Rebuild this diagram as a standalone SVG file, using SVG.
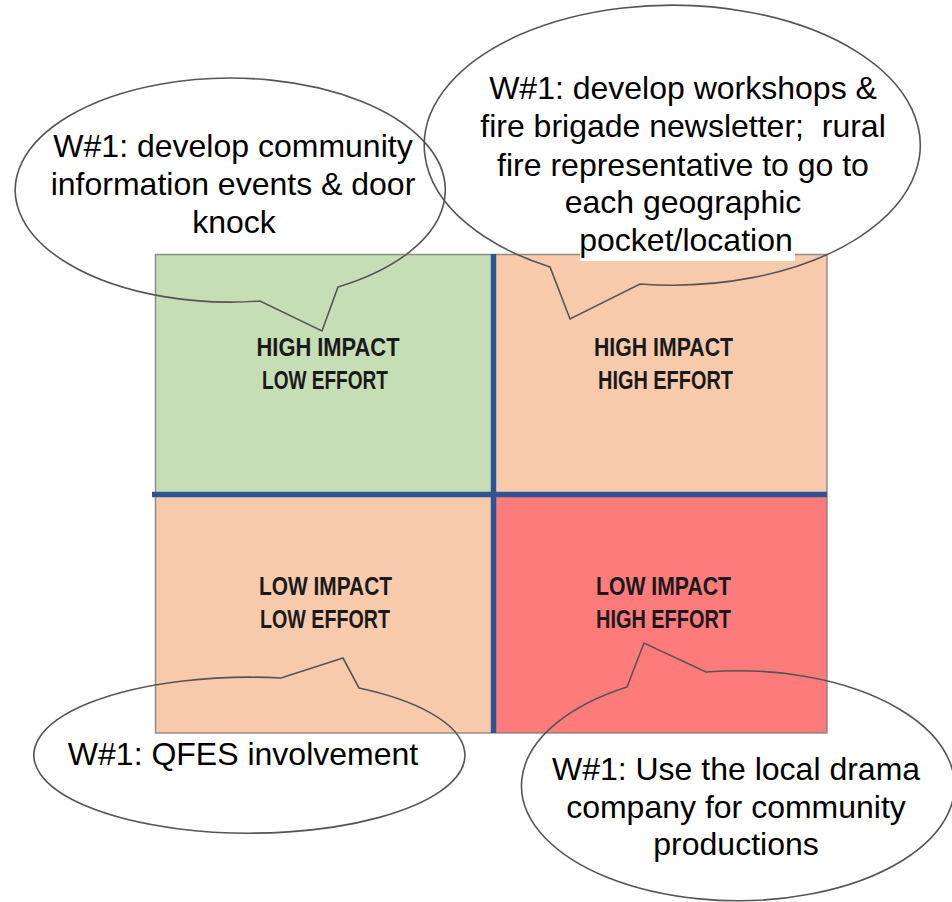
<svg xmlns="http://www.w3.org/2000/svg" width="952" height="902" viewBox="0 0 952 902">
  <style>
    .quad-label { font-family: "Liberation Sans Narrow", "Liberation Sans", Arial, sans-serif; font-weight: bold; font-size: 25px; fill: #1a1a1a; text-anchor: middle; }
    .callout { fill: none; stroke: #555555; stroke-width: 1.6; stroke-linejoin: miter; }
    .callout-text { font-family: "Liberation Sans", Arial, sans-serif; font-size: 32px; fill: #000000; text-anchor: middle; }
    .axis { stroke: #2F5496; stroke-width: 5.5; }
  </style>

  <rect x="0" y="0" width="952" height="902" fill="#ffffff"/>

  <!-- Impact / effort matrix -->
  <g id="matrix">
    <rect id="q-high-impact-low-effort" x="155" y="254" width="338" height="240" fill="#C6DEB6"/>
    <rect id="q-high-impact-high-effort" x="493" y="254" width="334" height="240" fill="#F7CAAC"/>
    <rect id="q-low-impact-low-effort" x="155" y="494" width="338" height="239" fill="#F7CAAC"/>
    <rect id="q-low-impact-high-effort" x="493" y="494" width="334" height="239" fill="#FE7B7C"/>
    <rect x="155.5" y="254.5" width="671.5" height="478.5" fill="none" stroke="#7a7a7a" stroke-width="1.5" stroke-opacity="0.8"/>
    <line class="axis" x1="493.5" y1="254" x2="493.5" y2="733"/>
    <line class="axis" x1="152" y1="494.5" x2="827" y2="494.5"/>

    <g id="label-tl">
      <text class="quad-label" x="328" y="356" textLength="143" lengthAdjust="spacingAndGlyphs">HIGH IMPACT</text>
      <text class="quad-label" x="325" y="389" textLength="126" lengthAdjust="spacingAndGlyphs">LOW EFFORT</text>
    </g>
    <g id="label-tr">
      <text class="quad-label" x="663.5" y="356" textLength="139" lengthAdjust="spacingAndGlyphs">HIGH IMPACT</text>
      <text class="quad-label" x="665.5" y="389" textLength="135" lengthAdjust="spacingAndGlyphs">HIGH EFFORT</text>
    </g>
    <g id="label-bl">
      <text class="quad-label" x="325.5" y="595" textLength="133" lengthAdjust="spacingAndGlyphs">LOW IMPACT</text>
      <text class="quad-label" x="325" y="628" textLength="130" lengthAdjust="spacingAndGlyphs">LOW EFFORT</text>
    </g>
    <g id="label-br">
      <text class="quad-label" x="663.5" y="595" textLength="135" lengthAdjust="spacingAndGlyphs">LOW IMPACT</text>
      <text class="quad-label" x="663.5" y="628" textLength="135" lengthAdjust="spacingAndGlyphs">HIGH EFFORT</text>
    </g>
  </g>

  <!-- Speech-bubble outlines (ellipse with a pointer) -->
  <g id="connectors">
    <!-- top-left bubble: pointer at (322,331) -->
    <path class="callout" d="M 338 287 A 215 112 0 1 0 260 301 L 322 331 Z"/>
    <!-- top-right bubble: pointer at (570,319) -->
    <path class="callout" d="M 640 284 A 248 140 0 1 0 550 267 L 570 319 Z"/>
    <!-- bottom-left bubble: pointer at (343,658) -->
    <path class="callout" d="M 281 678 A 215.5 78 0 1 0 359 688 L 343 658 Z"/>
    <!-- bottom-right bubble: pointer at (644,643) -->
    <path class="callout" d="M 627 687 A 216.5 115 0 1 0 706 672 L 644 643 Z"/>
  </g>

  <g id="note-tl">
    <text class="callout-text" x="233" y="157">W#1: develop community</text>
    <text class="callout-text" x="233" y="195">information events &amp; door</text>
    <text class="callout-text" x="234" y="233">knock</text>
  </g>

  <g id="note-tr">
    <rect x="580" y="230" width="215" height="31" fill="#ffffff"/>
    <text class="callout-text" x="683" y="99">W#1: develop workshops &amp;</text>
    <text class="callout-text" x="683" y="137" xml:space="preserve">fire brigade newsletter;  rural</text>
    <text class="callout-text" x="683" y="176">fire representative to go to</text>
    <text class="callout-text" x="683" y="213">each geographic</text>
    <text class="callout-text" x="686" y="251">pocket/location</text>
  </g>

  <g id="note-bl">
    <text class="callout-text" x="243" y="765">W#1: QFES involvement</text>
  </g>

  <g id="note-br">
    <text class="callout-text" x="736" y="780">W#1: Use the local drama</text>
    <text class="callout-text" x="736" y="818">company for community</text>
    <text class="callout-text" x="736" y="855">productions</text>
  </g>
</svg>
